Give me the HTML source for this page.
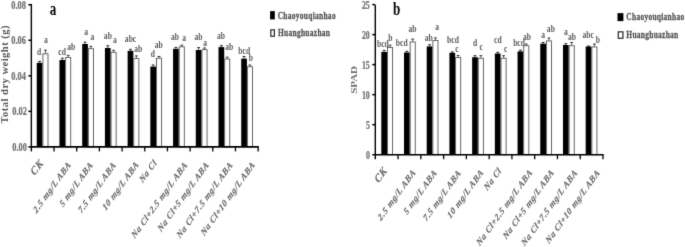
<!DOCTYPE html>
<html><head><meta charset="utf-8"><style>
html,body{margin:0;padding:0;background:#fff;overflow:hidden;}
svg{display:block;font-family:"Liberation Serif", serif;}
</style></head><body>
<svg width="685" height="247" viewBox="0 0 685 247">
<defs><filter id="bl" x="0" y="0" width="685" height="247" filterUnits="userSpaceOnUse" color-interpolation-filters="sRGB"><feConvolveMatrix order="3" kernelMatrix="0.01134 0.08382 0.01134 0.08382 0.61935 0.08382 0.01134 0.08382 0.01134" divisor="1" edgeMode="duplicate"/></filter></defs>
<g filter="url(#bl)">
<rect width="685" height="247" fill="#fff"/>
<rect x="36.75" y="62.80" width="5.70" height="84.10" fill="#000"/>
<line x1="39.60" y1="61.40" x2="39.60" y2="62.80" stroke="#222" stroke-width="0.8"/>
<line x1="38.20" y1="61.40" x2="41.00" y2="61.40" stroke="#222" stroke-width="1.0"/>
<rect x="42.90" y="53.75" width="5.10" height="93.15" fill="#fff" stroke="#555" stroke-width="0.9"/>
<line x1="45.45" y1="50.20" x2="45.45" y2="53.30" stroke="#333" stroke-width="0.8"/>
<line x1="44.05" y1="50.20" x2="46.85" y2="50.20" stroke="#333" stroke-width="1.0"/>
<rect x="59.47" y="60.00" width="5.70" height="86.90" fill="#000"/>
<line x1="62.32" y1="58.20" x2="62.32" y2="60.00" stroke="#222" stroke-width="0.8"/>
<line x1="60.92" y1="58.20" x2="63.72" y2="58.20" stroke="#222" stroke-width="1.0"/>
<rect x="65.62" y="57.45" width="5.10" height="89.45" fill="#fff" stroke="#555" stroke-width="0.9"/>
<line x1="68.17" y1="55.40" x2="68.17" y2="57.00" stroke="#333" stroke-width="0.8"/>
<line x1="66.77" y1="55.40" x2="69.57" y2="55.40" stroke="#333" stroke-width="1.0"/>
<rect x="82.19" y="44.00" width="5.70" height="102.90" fill="#000"/>
<line x1="85.04" y1="42.20" x2="85.04" y2="44.00" stroke="#222" stroke-width="0.8"/>
<line x1="83.64" y1="42.20" x2="86.44" y2="42.20" stroke="#222" stroke-width="1.0"/>
<rect x="88.34" y="48.65" width="5.10" height="98.25" fill="#fff" stroke="#555" stroke-width="0.9"/>
<line x1="90.89" y1="46.40" x2="90.89" y2="48.20" stroke="#333" stroke-width="0.8"/>
<line x1="89.49" y1="46.40" x2="92.29" y2="46.40" stroke="#333" stroke-width="1.0"/>
<rect x="104.91" y="48.00" width="5.70" height="98.90" fill="#000"/>
<line x1="107.76" y1="45.80" x2="107.76" y2="48.00" stroke="#222" stroke-width="0.8"/>
<line x1="106.36" y1="45.80" x2="109.16" y2="45.80" stroke="#222" stroke-width="1.0"/>
<rect x="111.06" y="52.35" width="5.10" height="94.55" fill="#fff" stroke="#555" stroke-width="0.9"/>
<line x1="113.61" y1="50.40" x2="113.61" y2="51.90" stroke="#333" stroke-width="0.8"/>
<line x1="112.21" y1="50.40" x2="115.01" y2="50.40" stroke="#333" stroke-width="1.0"/>
<rect x="127.63" y="50.80" width="5.70" height="96.10" fill="#000"/>
<line x1="130.48" y1="49.30" x2="130.48" y2="50.80" stroke="#222" stroke-width="0.8"/>
<line x1="129.08" y1="49.30" x2="131.88" y2="49.30" stroke="#222" stroke-width="1.0"/>
<rect x="133.78" y="58.55" width="5.10" height="88.35" fill="#fff" stroke="#555" stroke-width="0.9"/>
<line x1="136.33" y1="55.90" x2="136.33" y2="58.10" stroke="#333" stroke-width="0.8"/>
<line x1="134.93" y1="55.90" x2="137.73" y2="55.90" stroke="#333" stroke-width="1.0"/>
<rect x="150.35" y="66.60" width="5.70" height="80.30" fill="#000"/>
<line x1="153.20" y1="65.00" x2="153.20" y2="66.60" stroke="#222" stroke-width="0.8"/>
<line x1="151.80" y1="65.00" x2="154.60" y2="65.00" stroke="#222" stroke-width="1.0"/>
<rect x="156.50" y="58.25" width="5.10" height="88.65" fill="#fff" stroke="#555" stroke-width="0.9"/>
<line x1="159.05" y1="56.50" x2="159.05" y2="57.80" stroke="#333" stroke-width="0.8"/>
<line x1="157.65" y1="56.50" x2="160.45" y2="56.50" stroke="#333" stroke-width="1.0"/>
<rect x="173.07" y="48.80" width="5.70" height="98.10" fill="#000"/>
<line x1="175.92" y1="47.40" x2="175.92" y2="48.80" stroke="#222" stroke-width="0.8"/>
<line x1="174.52" y1="47.40" x2="177.32" y2="47.40" stroke="#222" stroke-width="1.0"/>
<rect x="179.22" y="46.85" width="5.10" height="100.05" fill="#fff" stroke="#555" stroke-width="0.9"/>
<line x1="181.77" y1="45.20" x2="181.77" y2="46.40" stroke="#333" stroke-width="0.8"/>
<line x1="180.37" y1="45.20" x2="183.17" y2="45.20" stroke="#333" stroke-width="1.0"/>
<rect x="195.79" y="50.00" width="5.70" height="96.90" fill="#000"/>
<line x1="198.64" y1="47.60" x2="198.64" y2="50.00" stroke="#222" stroke-width="0.8"/>
<line x1="197.24" y1="47.60" x2="200.04" y2="47.60" stroke="#222" stroke-width="1.0"/>
<rect x="201.94" y="49.65" width="5.10" height="97.25" fill="#fff" stroke="#555" stroke-width="0.9"/>
<line x1="204.49" y1="48.00" x2="204.49" y2="49.20" stroke="#333" stroke-width="0.8"/>
<line x1="203.09" y1="48.00" x2="205.89" y2="48.00" stroke="#333" stroke-width="1.0"/>
<rect x="218.51" y="47.10" width="5.70" height="99.80" fill="#000"/>
<line x1="221.36" y1="45.70" x2="221.36" y2="47.10" stroke="#222" stroke-width="0.8"/>
<line x1="219.96" y1="45.70" x2="222.76" y2="45.70" stroke="#222" stroke-width="1.0"/>
<rect x="224.66" y="59.05" width="5.10" height="87.85" fill="#fff" stroke="#555" stroke-width="0.9"/>
<line x1="227.21" y1="57.20" x2="227.21" y2="58.60" stroke="#333" stroke-width="0.8"/>
<line x1="225.81" y1="57.20" x2="228.61" y2="57.20" stroke="#333" stroke-width="1.0"/>
<rect x="241.23" y="58.60" width="5.70" height="88.30" fill="#000"/>
<line x1="244.08" y1="56.50" x2="244.08" y2="58.60" stroke="#222" stroke-width="0.8"/>
<line x1="242.68" y1="56.50" x2="245.48" y2="56.50" stroke="#222" stroke-width="1.0"/>
<rect x="247.38" y="66.75" width="5.10" height="80.15" fill="#fff" stroke="#555" stroke-width="0.9"/>
<line x1="249.93" y1="65.00" x2="249.93" y2="66.30" stroke="#333" stroke-width="0.8"/>
<line x1="248.53" y1="65.00" x2="251.33" y2="65.00" stroke="#333" stroke-width="1.0"/>
<line x1="31.35" y1="3.90" x2="31.35" y2="151.40" stroke="#000" stroke-width="1.4"/>
<line x1="30.75" y1="146.90" x2="258.80" y2="146.90" stroke="#000" stroke-width="1.6"/>
<line x1="54.03" y1="146.90" x2="54.03" y2="151.40" stroke="#000" stroke-width="1.3"/>
<line x1="76.71" y1="146.90" x2="76.71" y2="151.40" stroke="#000" stroke-width="1.3"/>
<line x1="99.39" y1="146.90" x2="99.39" y2="151.40" stroke="#000" stroke-width="1.3"/>
<line x1="122.07" y1="146.90" x2="122.07" y2="151.40" stroke="#000" stroke-width="1.3"/>
<line x1="144.75" y1="146.90" x2="144.75" y2="151.40" stroke="#000" stroke-width="1.3"/>
<line x1="167.43" y1="146.90" x2="167.43" y2="151.40" stroke="#000" stroke-width="1.3"/>
<line x1="190.11" y1="146.90" x2="190.11" y2="151.40" stroke="#000" stroke-width="1.3"/>
<line x1="212.79" y1="146.90" x2="212.79" y2="151.40" stroke="#000" stroke-width="1.3"/>
<line x1="235.47" y1="146.90" x2="235.47" y2="151.40" stroke="#000" stroke-width="1.3"/>
<line x1="258.15" y1="146.90" x2="258.15" y2="151.40" stroke="#000" stroke-width="1.3"/>
<line x1="28.35" y1="4.75" x2="31.35" y2="4.75" stroke="#000" stroke-width="1.5"/>
<text transform="translate(11.30,8.75) scale(0.7,1)" font-size="12" font-weight="bold" text-anchor="start" stroke="#6e6e6e" stroke-width="0.2" fill="#6e6e6e">0.08</text>
<line x1="28.35" y1="40.29" x2="31.35" y2="40.29" stroke="#000" stroke-width="1.5"/>
<text transform="translate(11.30,44.29) scale(0.7,1)" font-size="12" font-weight="bold" text-anchor="start" stroke="#6e6e6e" stroke-width="0.2" fill="#6e6e6e">0.06</text>
<line x1="28.35" y1="75.83" x2="31.35" y2="75.83" stroke="#000" stroke-width="1.5"/>
<text transform="translate(11.30,79.83) scale(0.7,1)" font-size="12" font-weight="bold" text-anchor="start" stroke="#6e6e6e" stroke-width="0.2" fill="#6e6e6e">0.04</text>
<line x1="28.35" y1="111.36" x2="31.35" y2="111.36" stroke="#000" stroke-width="1.5"/>
<text transform="translate(12.30,115.36) scale(0.7,1)" font-size="12" font-weight="bold" text-anchor="start" stroke="#6e6e6e" stroke-width="0.2" fill="#6e6e6e">0.02</text>
<line x1="28.35" y1="146.90" x2="31.35" y2="146.90" stroke="#000" stroke-width="1.5"/>
<text transform="translate(12.30,150.90) scale(0.7,1)" font-size="12" font-weight="bold" text-anchor="start" stroke="#6e6e6e" stroke-width="0.2" fill="#6e6e6e">0.00</text>
<text transform="translate(37.05,54.90) scale(0.76,1)" font-size="10" font-weight="bold" text-anchor="start" fill="#5a5a5a">d</text>
<text transform="translate(43.90,43.00) scale(0.76,1)" font-size="10" font-weight="bold" text-anchor="start" fill="#5a5a5a">a</text>
<text transform="translate(58.30,55.00) scale(0.76,1)" font-size="10" font-weight="bold" text-anchor="start" fill="#5a5a5a">cd</text>
<text transform="translate(67.25,50.20) scale(0.76,1)" font-size="10" font-weight="bold" text-anchor="start" fill="#5a5a5a">ab</text>
<text transform="translate(84.15,34.90) scale(0.76,1)" font-size="10" font-weight="bold" text-anchor="start" fill="#5a5a5a">a</text>
<text transform="translate(90.50,39.70) scale(0.76,1)" font-size="10" font-weight="bold" text-anchor="start" fill="#5a5a5a">a</text>
<text transform="translate(103.85,39.10) scale(0.76,1)" font-size="10" font-weight="bold" text-anchor="start" fill="#5a5a5a">ab</text>
<text transform="translate(113.10,42.80) scale(0.76,1)" font-size="10" font-weight="bold" text-anchor="start" fill="#5a5a5a">a</text>
<text transform="translate(124.85,42.20) scale(0.76,1)" font-size="10" font-weight="bold" text-anchor="start" fill="#5a5a5a">abc</text>
<text transform="translate(134.25,51.90) scale(0.76,1)" font-size="10" font-weight="bold" text-anchor="start" fill="#5a5a5a">ab</text>
<text transform="translate(150.80,57.20) scale(0.76,1)" font-size="10" font-weight="bold" text-anchor="start" fill="#5a5a5a">d</text>
<text transform="translate(154.75,48.20) scale(0.76,1)" font-size="10" font-weight="bold" text-anchor="start" fill="#5a5a5a">ab</text>
<text transform="translate(170.90,40.30) scale(0.76,1)" font-size="10" font-weight="bold" text-anchor="start" fill="#5a5a5a">ab</text>
<text transform="translate(182.35,40.90) scale(0.76,1)" font-size="10" font-weight="bold" text-anchor="start" fill="#5a5a5a">a</text>
<text transform="translate(194.40,40.30) scale(0.76,1)" font-size="10" font-weight="bold" text-anchor="start" fill="#5a5a5a">ab</text>
<text transform="translate(203.25,45.80) scale(0.76,1)" font-size="10" font-weight="bold" text-anchor="start" fill="#5a5a5a">a</text>
<text transform="translate(216.95,38.50) scale(0.76,1)" font-size="10" font-weight="bold" text-anchor="start" fill="#5a5a5a">ab</text>
<text transform="translate(225.15,50.00) scale(0.76,1)" font-size="10" font-weight="bold" text-anchor="start" fill="#5a5a5a">ab</text>
<text transform="translate(238.35,53.50) scale(0.76,1)" font-size="10" font-weight="bold" text-anchor="start" fill="#5a5a5a">bcd</text>
<text transform="translate(248.70,61.40) scale(0.76,1)" font-size="10" font-weight="bold" text-anchor="start" fill="#5a5a5a">b</text>
<text transform="translate(44.00,163.60) scale(0.8480000000000001,1) rotate(-48)" font-size="11.5" font-weight="bold" font-style="italic" text-anchor="end" letter-spacing="0.6" stroke="#666" stroke-width="0.15" fill="#666">CK</text>
<text transform="translate(71.50,164.90) scale(0.8,1) rotate(-48)" font-size="10" font-weight="bold" font-style="italic" text-anchor="end" letter-spacing="0.6" stroke="#666" stroke-width="0.15" fill="#666">2.5 mg/L ABA</text>
<text transform="translate(93.40,165.10) scale(0.8,1) rotate(-48)" font-size="10" font-weight="bold" font-style="italic" text-anchor="end" letter-spacing="0.6" stroke="#666" stroke-width="0.15" fill="#666">5 mg/L ABA</text>
<text transform="translate(116.50,165.10) scale(0.8,1) rotate(-48)" font-size="10" font-weight="bold" font-style="italic" text-anchor="end" letter-spacing="0.6" stroke="#666" stroke-width="0.15" fill="#666">7.5 mg/L ABA</text>
<text transform="translate(139.20,164.60) scale(0.8,1) rotate(-48)" font-size="10" font-weight="bold" font-style="italic" text-anchor="end" letter-spacing="0.6" stroke="#666" stroke-width="0.15" fill="#666">10 mg/L ABA</text>
<text transform="translate(157.20,163.10) scale(0.8,1) rotate(-48)" font-size="10" font-weight="bold" font-style="italic" text-anchor="end" letter-spacing="0.6" stroke="#666" stroke-width="0.15" fill="#666">Na Cl</text>
<text transform="translate(187.80,165.10) scale(0.8,1) rotate(-48)" font-size="10" font-weight="bold" font-style="italic" text-anchor="end" letter-spacing="0.6" stroke="#666" stroke-width="0.15" fill="#666">Na Cl+2.5 mg/L ABA</text>
<text transform="translate(209.30,165.10) scale(0.8,1) rotate(-48)" font-size="10" font-weight="bold" font-style="italic" text-anchor="end" letter-spacing="0.6" stroke="#666" stroke-width="0.15" fill="#666">Na Cl+5 mg/L ABA</text>
<text transform="translate(233.10,165.10) scale(0.8,1) rotate(-48)" font-size="10" font-weight="bold" font-style="italic" text-anchor="end" letter-spacing="0.6" stroke="#666" stroke-width="0.15" fill="#666">Na Cl+7.5 mg/L ABA</text>
<text transform="translate(255.50,164.90) scale(0.8,1) rotate(-48)" font-size="10" font-weight="bold" font-style="italic" text-anchor="end" letter-spacing="0.6" stroke="#666" stroke-width="0.15" fill="#666">Na Cl+10 mg/L ABA</text>
<text transform="translate(8.30,74.25) scale(0.92,1) rotate(-90)" font-size="10.5" font-weight="bold" text-anchor="middle" letter-spacing="0.5" fill="#555">Total dry weight (g)</text>
<rect x="381.30" y="51.90" width="5.70" height="102.80" fill="#000"/>
<line x1="384.15" y1="50.40" x2="384.15" y2="51.90" stroke="#222" stroke-width="0.8"/>
<line x1="382.75" y1="50.40" x2="385.55" y2="50.40" stroke="#222" stroke-width="1.0"/>
<rect x="387.45" y="47.45" width="5.10" height="107.25" fill="#fff" stroke="#555" stroke-width="0.9"/>
<line x1="390.00" y1="45.20" x2="390.00" y2="47.00" stroke="#333" stroke-width="0.8"/>
<line x1="388.60" y1="45.20" x2="391.40" y2="45.20" stroke="#333" stroke-width="1.0"/>
<rect x="404.01" y="52.50" width="5.70" height="102.20" fill="#000"/>
<line x1="406.86" y1="51.30" x2="406.86" y2="52.50" stroke="#222" stroke-width="0.8"/>
<line x1="405.46" y1="51.30" x2="408.26" y2="51.30" stroke="#222" stroke-width="1.0"/>
<rect x="410.16" y="41.95" width="5.10" height="112.75" fill="#fff" stroke="#555" stroke-width="0.9"/>
<line x1="412.71" y1="39.10" x2="412.71" y2="41.50" stroke="#333" stroke-width="0.8"/>
<line x1="411.31" y1="39.10" x2="414.11" y2="39.10" stroke="#333" stroke-width="1.0"/>
<rect x="426.72" y="46.40" width="5.70" height="108.30" fill="#000"/>
<line x1="429.57" y1="44.80" x2="429.57" y2="46.40" stroke="#222" stroke-width="0.8"/>
<line x1="428.17" y1="44.80" x2="430.97" y2="44.80" stroke="#222" stroke-width="1.0"/>
<rect x="432.87" y="40.45" width="5.10" height="114.25" fill="#fff" stroke="#555" stroke-width="0.9"/>
<line x1="435.42" y1="37.90" x2="435.42" y2="40.00" stroke="#333" stroke-width="0.8"/>
<line x1="434.02" y1="37.90" x2="436.82" y2="37.90" stroke="#333" stroke-width="1.0"/>
<rect x="449.43" y="52.80" width="5.70" height="101.90" fill="#000"/>
<line x1="452.28" y1="51.90" x2="452.28" y2="52.80" stroke="#222" stroke-width="0.8"/>
<line x1="450.88" y1="51.90" x2="453.68" y2="51.90" stroke="#222" stroke-width="1.0"/>
<rect x="455.58" y="57.45" width="5.10" height="97.25" fill="#fff" stroke="#555" stroke-width="0.9"/>
<line x1="458.13" y1="55.50" x2="458.13" y2="57.00" stroke="#333" stroke-width="0.8"/>
<line x1="456.73" y1="55.50" x2="459.53" y2="55.50" stroke="#333" stroke-width="1.0"/>
<rect x="472.14" y="57.20" width="5.70" height="97.50" fill="#000"/>
<line x1="474.99" y1="55.70" x2="474.99" y2="57.20" stroke="#222" stroke-width="0.8"/>
<line x1="473.59" y1="55.70" x2="476.39" y2="55.70" stroke="#222" stroke-width="1.0"/>
<rect x="478.29" y="58.25" width="5.10" height="96.45" fill="#fff" stroke="#555" stroke-width="0.9"/>
<line x1="480.84" y1="55.70" x2="480.84" y2="57.80" stroke="#333" stroke-width="0.8"/>
<line x1="479.44" y1="55.70" x2="482.24" y2="55.70" stroke="#333" stroke-width="1.0"/>
<rect x="494.85" y="53.50" width="5.70" height="101.20" fill="#000"/>
<line x1="497.70" y1="52.30" x2="497.70" y2="53.50" stroke="#222" stroke-width="0.8"/>
<line x1="496.30" y1="52.30" x2="499.10" y2="52.30" stroke="#222" stroke-width="1.0"/>
<rect x="501.00" y="58.25" width="5.10" height="96.45" fill="#fff" stroke="#555" stroke-width="0.9"/>
<line x1="503.55" y1="55.70" x2="503.55" y2="57.80" stroke="#333" stroke-width="0.8"/>
<line x1="502.15" y1="55.70" x2="504.95" y2="55.70" stroke="#333" stroke-width="1.0"/>
<rect x="517.56" y="51.40" width="5.70" height="103.30" fill="#000"/>
<line x1="520.41" y1="50.20" x2="520.41" y2="51.40" stroke="#222" stroke-width="0.8"/>
<line x1="519.01" y1="50.20" x2="521.81" y2="50.20" stroke="#222" stroke-width="1.0"/>
<rect x="523.71" y="45.75" width="5.10" height="108.95" fill="#fff" stroke="#555" stroke-width="0.9"/>
<line x1="526.26" y1="44.10" x2="526.26" y2="45.30" stroke="#333" stroke-width="0.8"/>
<line x1="524.86" y1="44.10" x2="527.66" y2="44.10" stroke="#333" stroke-width="1.0"/>
<rect x="540.27" y="43.70" width="5.70" height="111.00" fill="#000"/>
<line x1="543.12" y1="42.50" x2="543.12" y2="43.70" stroke="#222" stroke-width="0.8"/>
<line x1="541.72" y1="42.50" x2="544.52" y2="42.50" stroke="#222" stroke-width="1.0"/>
<rect x="546.42" y="40.95" width="5.10" height="113.75" fill="#fff" stroke="#555" stroke-width="0.9"/>
<line x1="548.97" y1="38.00" x2="548.97" y2="40.50" stroke="#333" stroke-width="0.8"/>
<line x1="547.57" y1="38.00" x2="550.37" y2="38.00" stroke="#333" stroke-width="1.0"/>
<rect x="562.98" y="45.00" width="5.70" height="109.70" fill="#000"/>
<line x1="565.83" y1="43.70" x2="565.83" y2="45.00" stroke="#222" stroke-width="0.8"/>
<line x1="564.43" y1="43.70" x2="567.23" y2="43.70" stroke="#222" stroke-width="1.0"/>
<rect x="569.13" y="45.75" width="5.10" height="108.95" fill="#fff" stroke="#555" stroke-width="0.9"/>
<line x1="571.68" y1="42.50" x2="571.68" y2="45.30" stroke="#333" stroke-width="0.8"/>
<line x1="570.28" y1="42.50" x2="573.08" y2="42.50" stroke="#333" stroke-width="1.0"/>
<rect x="585.69" y="46.50" width="5.70" height="108.20" fill="#000"/>
<line x1="588.54" y1="46.00" x2="588.54" y2="46.50" stroke="#222" stroke-width="0.8"/>
<line x1="587.14" y1="46.00" x2="589.94" y2="46.00" stroke="#222" stroke-width="1.0"/>
<rect x="591.84" y="46.95" width="5.10" height="107.75" fill="#fff" stroke="#555" stroke-width="0.9"/>
<line x1="594.39" y1="44.10" x2="594.39" y2="46.50" stroke="#333" stroke-width="0.8"/>
<line x1="592.99" y1="44.10" x2="595.79" y2="44.10" stroke="#333" stroke-width="1.0"/>
<line x1="375.30" y1="4.90" x2="375.30" y2="159.20" stroke="#000" stroke-width="1.4"/>
<line x1="374.70" y1="154.70" x2="603.65" y2="154.70" stroke="#000" stroke-width="1.6"/>
<line x1="398.07" y1="154.70" x2="398.07" y2="159.20" stroke="#000" stroke-width="1.3"/>
<line x1="420.84" y1="154.70" x2="420.84" y2="159.20" stroke="#000" stroke-width="1.3"/>
<line x1="443.61" y1="154.70" x2="443.61" y2="159.20" stroke="#000" stroke-width="1.3"/>
<line x1="466.38" y1="154.70" x2="466.38" y2="159.20" stroke="#000" stroke-width="1.3"/>
<line x1="489.15" y1="154.70" x2="489.15" y2="159.20" stroke="#000" stroke-width="1.3"/>
<line x1="511.92" y1="154.70" x2="511.92" y2="159.20" stroke="#000" stroke-width="1.3"/>
<line x1="534.69" y1="154.70" x2="534.69" y2="159.20" stroke="#000" stroke-width="1.3"/>
<line x1="557.46" y1="154.70" x2="557.46" y2="159.20" stroke="#000" stroke-width="1.3"/>
<line x1="580.23" y1="154.70" x2="580.23" y2="159.20" stroke="#000" stroke-width="1.3"/>
<line x1="603.00" y1="154.70" x2="603.00" y2="159.20" stroke="#000" stroke-width="1.3"/>
<line x1="372.30" y1="4.60" x2="375.30" y2="4.60" stroke="#000" stroke-width="1.5"/>
<text transform="translate(361.90,8.60) scale(0.66,1)" font-size="12" font-weight="bold" text-anchor="start" stroke="#6e6e6e" stroke-width="0.2" fill="#6e6e6e">25</text>
<line x1="372.30" y1="34.62" x2="375.30" y2="34.62" stroke="#000" stroke-width="1.5"/>
<text transform="translate(361.90,38.62) scale(0.66,1)" font-size="12" font-weight="bold" text-anchor="start" stroke="#6e6e6e" stroke-width="0.2" fill="#6e6e6e">20</text>
<line x1="372.30" y1="64.64" x2="375.30" y2="64.64" stroke="#000" stroke-width="1.5"/>
<text transform="translate(361.90,68.64) scale(0.66,1)" font-size="12" font-weight="bold" text-anchor="start" stroke="#6e6e6e" stroke-width="0.2" fill="#6e6e6e">15</text>
<line x1="372.30" y1="94.66" x2="375.30" y2="94.66" stroke="#000" stroke-width="1.5"/>
<text transform="translate(361.90,98.66) scale(0.66,1)" font-size="12" font-weight="bold" text-anchor="start" stroke="#6e6e6e" stroke-width="0.2" fill="#6e6e6e">10</text>
<line x1="372.30" y1="124.68" x2="375.30" y2="124.68" stroke="#000" stroke-width="1.5"/>
<text transform="translate(365.90,128.68) scale(0.66,1)" font-size="12" font-weight="bold" text-anchor="start" stroke="#6e6e6e" stroke-width="0.2" fill="#6e6e6e">5</text>
<line x1="372.30" y1="154.70" x2="375.30" y2="154.70" stroke="#000" stroke-width="1.5"/>
<text transform="translate(365.90,158.70) scale(0.66,1)" font-size="12" font-weight="bold" text-anchor="start" stroke="#6e6e6e" stroke-width="0.2" fill="#6e6e6e">0</text>
<text transform="translate(376.95,47.00) scale(0.76,1)" font-size="10" font-weight="bold" text-anchor="start" fill="#5a5a5a">bcd</text>
<text transform="translate(388.20,40.90) scale(0.76,1)" font-size="10" font-weight="bold" text-anchor="start" fill="#5a5a5a">b</text>
<text transform="translate(395.80,46.40) scale(0.76,1)" font-size="10" font-weight="bold" text-anchor="start" fill="#5a5a5a">bcd</text>
<text transform="translate(408.55,32.00) scale(0.76,1)" font-size="10" font-weight="bold" text-anchor="start" fill="#5a5a5a">ab</text>
<text transform="translate(424.65,40.50) scale(0.76,1)" font-size="10" font-weight="bold" text-anchor="start" fill="#5a5a5a">ab</text>
<text transform="translate(435.15,30.20) scale(0.76,1)" font-size="10" font-weight="bold" text-anchor="start" fill="#5a5a5a">a</text>
<text transform="translate(447.05,43.40) scale(0.76,1)" font-size="10" font-weight="bold" text-anchor="start" fill="#5a5a5a">bcd</text>
<text transform="translate(455.30,51.90) scale(0.76,1)" font-size="10" font-weight="bold" text-anchor="start" fill="#5a5a5a">c</text>
<text transform="translate(473.05,46.40) scale(0.76,1)" font-size="10" font-weight="bold" text-anchor="start" fill="#5a5a5a">d</text>
<text transform="translate(479.60,50.00) scale(0.76,1)" font-size="10" font-weight="bold" text-anchor="start" fill="#5a5a5a">c</text>
<text transform="translate(494.05,43.40) scale(0.76,1)" font-size="10" font-weight="bold" text-anchor="start" fill="#5a5a5a">cd</text>
<text transform="translate(503.90,51.90) scale(0.76,1)" font-size="10" font-weight="bold" text-anchor="start" fill="#5a5a5a">c</text>
<text transform="translate(513.15,46.10) scale(0.76,1)" font-size="10" font-weight="bold" text-anchor="start" fill="#5a5a5a">bcd</text>
<text transform="translate(522.90,40.00) scale(0.76,1)" font-size="10" font-weight="bold" text-anchor="start" fill="#5a5a5a">ab</text>
<text transform="translate(541.35,37.60) scale(0.76,1)" font-size="10" font-weight="bold" text-anchor="start" fill="#5a5a5a">a</text>
<text transform="translate(546.85,32.20) scale(0.76,1)" font-size="10" font-weight="bold" text-anchor="start" fill="#5a5a5a">ab</text>
<text transform="translate(563.95,35.20) scale(0.76,1)" font-size="10" font-weight="bold" text-anchor="start" fill="#5a5a5a">a</text>
<text transform="translate(568.05,40.00) scale(0.76,1)" font-size="10" font-weight="bold" text-anchor="start" fill="#5a5a5a">ab</text>
<text transform="translate(582.45,38.20) scale(0.76,1)" font-size="10" font-weight="bold" text-anchor="start" fill="#5a5a5a">abc</text>
<text transform="translate(595.85,43.10) scale(0.76,1)" font-size="10" font-weight="bold" text-anchor="start" fill="#5a5a5a">b</text>
<text transform="translate(387.80,171.10) scale(0.8480000000000001,1) rotate(-48)" font-size="11.5" font-weight="bold" font-style="italic" text-anchor="end" letter-spacing="0.6" stroke="#666" stroke-width="0.15" fill="#666">CK</text>
<text transform="translate(416.10,172.50) scale(0.8,1) rotate(-48)" font-size="10" font-weight="bold" font-style="italic" text-anchor="end" letter-spacing="0.6" stroke="#666" stroke-width="0.15" fill="#666">2.5 mg/L ABA</text>
<text transform="translate(437.40,172.90) scale(0.8,1) rotate(-48)" font-size="10" font-weight="bold" font-style="italic" text-anchor="end" letter-spacing="0.6" stroke="#666" stroke-width="0.15" fill="#666">5 mg/L ABA</text>
<text transform="translate(461.50,173.10) scale(0.8,1) rotate(-48)" font-size="10" font-weight="bold" font-style="italic" text-anchor="end" letter-spacing="0.6" stroke="#666" stroke-width="0.15" fill="#666">7.5 mg/L ABA</text>
<text transform="translate(484.00,172.60) scale(0.8,1) rotate(-48)" font-size="10" font-weight="bold" font-style="italic" text-anchor="end" letter-spacing="0.6" stroke="#666" stroke-width="0.15" fill="#666">10 mg/L ABA</text>
<text transform="translate(501.90,170.90) scale(0.8,1) rotate(-48)" font-size="10" font-weight="bold" font-style="italic" text-anchor="end" letter-spacing="0.6" stroke="#666" stroke-width="0.15" fill="#666">Na Cl</text>
<text transform="translate(532.80,172.60) scale(0.8,1) rotate(-48)" font-size="10" font-weight="bold" font-style="italic" text-anchor="end" letter-spacing="0.6" stroke="#666" stroke-width="0.15" fill="#666">Na Cl+2.5 mg/L ABA</text>
<text transform="translate(554.50,172.60) scale(0.8,1) rotate(-48)" font-size="10" font-weight="bold" font-style="italic" text-anchor="end" letter-spacing="0.6" stroke="#666" stroke-width="0.15" fill="#666">Na Cl+5 mg/L ABA</text>
<text transform="translate(577.80,172.90) scale(0.8,1) rotate(-48)" font-size="10" font-weight="bold" font-style="italic" text-anchor="end" letter-spacing="0.6" stroke="#666" stroke-width="0.15" fill="#666">Na Cl+7.5 mg/L ABA</text>
<text transform="translate(600.30,172.90) scale(0.8,1) rotate(-48)" font-size="10" font-weight="bold" font-style="italic" text-anchor="end" letter-spacing="0.6" stroke="#666" stroke-width="0.15" fill="#666">Na Cl+10 mg/L ABA</text>
<text transform="translate(357.30,79.90) scale(0.72,1) rotate(-90)" font-size="11" font-weight="bold" text-anchor="middle" fill="#707070">SPAD</text>
<text transform="translate(49.75,14.60) scale(0.67,1)" font-size="19.5" font-weight="bold" text-anchor="start" fill="#000">a</text>
<text transform="translate(393.05,15.00) scale(0.67,1)" font-size="19.5" font-weight="bold" text-anchor="start" fill="#000">b</text>
<rect x="270.10" y="11.10" width="4.70" height="8.30" fill="#000"/>
<rect x="270.85" y="29.85" width="3.50" height="6.40" fill="#fff" stroke="#111" stroke-width="1.1"/>
<text transform="translate(277.70,18.90) scale(0.71,1)" font-size="10.5" font-weight="bold" text-anchor="start" letter-spacing="0.4" stroke="#505050" stroke-width="0.25" fill="#505050">Chaoyouqianhao</text>
<text transform="translate(278.00,36.00) scale(0.71,1)" font-size="10.5" font-weight="bold" text-anchor="start" letter-spacing="0.4" stroke="#505050" stroke-width="0.25" fill="#505050">Huanghuazhan</text>
<rect x="617.50" y="13.10" width="5.90" height="8.00" fill="#000"/>
<rect x="618.25" y="31.85" width="4.70" height="6.40" fill="#fff" stroke="#111" stroke-width="1.1"/>
<text transform="translate(626.30,20.10) scale(0.71,1)" font-size="10.5" font-weight="bold" text-anchor="start" letter-spacing="0.4" stroke="#505050" stroke-width="0.25" fill="#505050">Chaoyouqianhao</text>
<text transform="translate(626.30,38.20) scale(0.71,1)" font-size="10.5" font-weight="bold" text-anchor="start" letter-spacing="0.4" stroke="#505050" stroke-width="0.25" fill="#505050">Huanghuazhan</text>
</g>
</svg>
</body></html>
